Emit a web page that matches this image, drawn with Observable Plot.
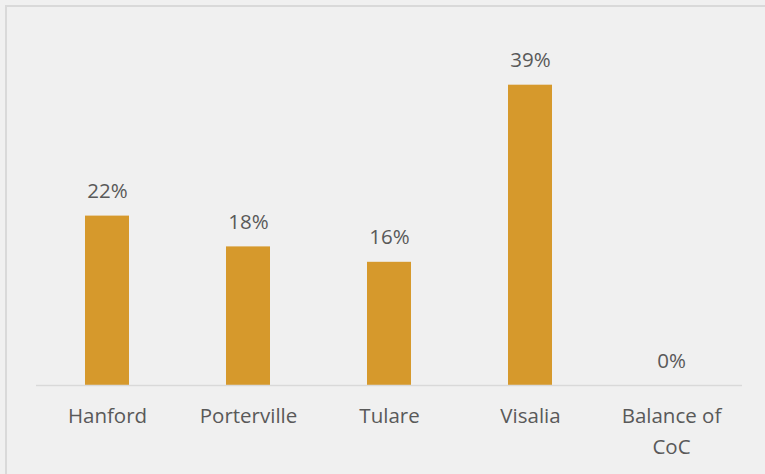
<!DOCTYPE html>
<html>
<head>
<meta charset="utf-8">
<script src="https://cdn.jsdelivr.net/npm/d3@7"></script>
<script src="https://cdn.jsdelivr.net/npm/@observablehq/plot@0.6"></script>
<style>
  html, body { margin: 0; padding: 0; background: #f0f0f0; }
  #frame { position: absolute; left: 5px; top: 5px; width: 780px; height: 490px;
           border-left: 2px solid #d9d9d9; border-top: 2px solid #d9d9d9; box-sizing: border-box; }
  #chart { position: absolute; left: 0; top: 0; }
</style>
</head>
<body>
<div id="frame"></div>
<div id="chart"></div>
<script>
const categories = ["Hanford", "Porterville", "Tulare", "Visalia", "Balance of CoC"];
const values = [22, 18, 16, 39, 0];
const labels = ["22%", "18%", "16%", "39%", "0%"];

const data = categories.map((c, i) => ({category: c, value: values[i], label: labels[i]}));

const plot = Plot.plot({
  width: 765,
  height: 474,
  marginLeft: 36,
  marginRight: 23,
  marginTop: 38.5,
  marginBottom: 89,
  style: {background: "transparent", fontFamily: "'Open Sans', sans-serif", fontSize: "20px", color: "#595959"},
  x: {domain: categories, paddingInner: 0.69, paddingOuter: 0.345, label: null},
  y: {domain: [0, 45], axis: null},
  marks: [
    Plot.barY(data, {x: "category", y: "value", fill: "#d6992c"}),
    Plot.ruleY([0], {stroke: "#d9d9d9", strokeWidth: 1.5}),
    Plot.text(data, {x: "category", y: "value", text: "label", dy: -18, lineAnchor: "bottom",
      fill: "#595959", fontSize: 20.5}),
    Plot.axisX({tickSize: 0, tickPadding: 16, fontSize: 20.5, fill: "#595959", lineHeight: 1.5,
      tickFormat: d => d.replace(" of ", " of\n")})
  ]
});
document.getElementById("chart").appendChild(plot);
</script>
</body>
</html>
